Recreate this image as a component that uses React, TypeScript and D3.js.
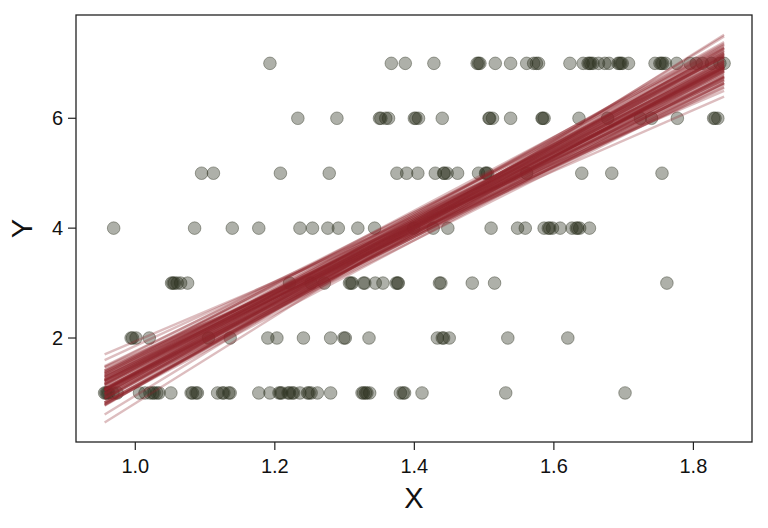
import React from "react";
import * as d3 from "d3";

const yLevels = [1, 2, 3, 4, 5, 6, 7];
const xAtY1 = [0.956, 0.958, 0.960, 0.962, 0.968, 0.974, 1.006, 1.014, 1.021, 1.025, 1.027, 1.031, 1.034, 1.051, 1.080, 1.082, 1.087, 1.089, 1.118, 1.125, 1.127, 1.134, 1.136, 1.177, 1.193, 1.206, 1.208, 1.210, 1.219, 1.221, 1.225, 1.227, 1.236, 1.247, 1.249, 1.252, 1.261, 1.280, 1.325, 1.327, 1.330, 1.332, 1.336, 1.380, 1.384, 1.386, 1.411, 1.531, 1.702];
const xAtY2 = [0.994, 0.996, 1.001, 1.020, 1.105, 1.136, 1.190, 1.203, 1.241, 1.280, 1.299, 1.301, 1.335, 1.433, 1.440, 1.442, 1.450, 1.534, 1.620];
const xAtY3 = [1.052, 1.054, 1.056, 1.060, 1.065, 1.075, 1.221, 1.252, 1.271, 1.307, 1.309, 1.311, 1.327, 1.329, 1.344, 1.355, 1.374, 1.376, 1.377, 1.436, 1.438, 1.483, 1.515, 1.762];
const xAtY4 = [0.969, 1.085, 1.139, 1.177, 1.236, 1.254, 1.276, 1.291, 1.319, 1.343, 1.399, 1.427, 1.448, 1.510, 1.548, 1.559, 1.586, 1.592, 1.594, 1.598, 1.609, 1.626, 1.632, 1.634, 1.637, 1.651];
const xAtY5 = [1.095, 1.112, 1.208, 1.278, 1.375, 1.389, 1.405, 1.430, 1.442, 1.443, 1.447, 1.462, 1.492, 1.502, 1.503, 1.505, 1.561, 1.640, 1.683, 1.755];
const xAtY6 = [1.233, 1.289, 1.350, 1.352, 1.359, 1.363, 1.400, 1.402, 1.406, 1.440, 1.507, 1.508, 1.512, 1.538, 1.583, 1.584, 1.586, 1.636, 1.677, 1.724, 1.740, 1.777, 1.829, 1.831, 1.835];
const xAtY7 = [1.193, 1.367, 1.387, 1.428, 1.490, 1.492, 1.494, 1.516, 1.538, 1.561, 1.571, 1.575, 1.578, 1.623, 1.642, 1.649, 1.651, 1.653, 1.656, 1.664, 1.673, 1.679, 1.692, 1.694, 1.696, 1.698, 1.707, 1.745, 1.752, 1.754, 1.756, 1.760, 1.776, 1.795, 1.804, 1.813, 1.826, 1.838, 1.844];
const xByLevel = [xAtY1, xAtY2, xAtY3, xAtY4, xAtY5, xAtY6, xAtY7];

// posterior regression samples: value at pivot x and slope
const linePivotX = 1.4;
const lineCenters = [
  3.99, 4.17, 3.90, 4.08, 3.84, 4.23, 4.05, 3.96, 4.29, 4.11,
  3.93, 4.02, 4.20, 3.78, 4.05, 4.14, 3.87, 4.02, 4.26, 3.99,
  4.11, 3.90, 4.05, 4.32, 3.96, 4.08, 3.84, 4.17, 4.02, 3.93,
  4.14, 3.99, 4.10, 4.05, 4.23, 3.96, 4.11, 3.90, 4.02, 4.20,
  4.08, 3.87, 3.99, 4.14, 4.05, 3.93, 4.26, 4.02, 3.84, 4.11,
  3.96, 4.17, 4.05, 3.90, 4.08, 3.99, 4.20, 3.78, 4.02, 4.14,
  3.93, 4.05, 4.11, 3.87, 4.23, 3.99, 4.08, 3.96, 4.29, 4.02,
  3.90, 4.14, 4.05, 3.84, 4.11, 3.99, 4.17, 3.93, 4.02, 4.08,
];
const lineSlopes = [
  6.57, 6.22, 6.93, 6.44, 6.78, 7.11, 6.04, 6.67, 6.35, 6.87,
  6.51, 7.33, 5.86, 6.72, 6.30, 6.96, 6.48, 6.15, 6.81, 6.60,
  7.03, 6.39, 5.96, 6.70, 6.55, 7.20, 6.28, 6.83, 6.43, 6.11,
  6.63, 7.95, 5.40, 6.90, 6.34, 6.74, 6.20, 7.00, 6.47, 6.59,
  6.86, 6.25, 7.13, 6.41, 6.68, 5.91, 6.98, 6.54, 6.31, 7.25,
  6.13, 6.77, 6.46, 6.94, 6.07, 6.63, 7.07, 6.37, 6.82, 6.51,
  5.55, 7.75, 6.28, 6.70, 6.17, 6.90, 6.42, 7.17, 6.56, 6.02,
  6.74, 6.35, 7.06, 6.47, 6.89, 6.24, 6.65, 5.94, 7.29, 6.59,
];

const xTicks = [1.0, 1.2, 1.4, 1.6, 1.8];
const yTicks = [2, 4, 6];
const xLabel = "X";
const yLabel = "Y";

const W = 768;
const H = 528;
const M = { left: 76, right: 752, top: 15, bottom: 442 };

export default function App() {
  const x = d3.scaleLinear().domain([0.915, 1.884]).range([M.left, M.right]);
  const y = d3.scaleLinear().domain([0.107, 7.88]).range([M.bottom, M.top]);

  const points: { x: number; y: number }[] = [];
  xByLevel.forEach((xs, i) => xs.forEach((v) => points.push({ x: v, y: yLevels[i] })));
  const [xMin, xMax] = d3.extent(points, (d) => d.x) as [number, number];

  const font = "'Liberation Sans', Arial, sans-serif";

  return (
    <div style={{ position: "fixed", left: 0, top: 0 }}>
      <svg width={W} height={H} style={{ display: "block", background: "#fff" }}>
        <g>
          {points.map((p, i) => (
            <circle
              key={i}
              cx={x(p.x)}
              cy={y(p.y)}
              r={6.3}
              fill="rgb(42,47,30)"
              fillOpacity={0.38}
              stroke="rgb(42,47,30)"
              strokeOpacity={0.4}
              strokeWidth={1}
            />
          ))}
        </g>
        <g>
          {lineCenters.map((c, i) => {
            const s = lineSlopes[i];
            const f = (v: number) => c + s * (v - linePivotX);
            const d = d3
              .line<number>()
              .x((v) => x(v))
              .y((v) => y(f(v)))([xMin, xMax]);
            return (
              <path
                key={i}
                d={d || ""}
                fill="none"
                stroke="rgb(142,36,42)"
                strokeOpacity={0.3}
                strokeWidth={2.4}
              />
            );
          })}
        </g>
        <rect
          x={M.left}
          y={M.top}
          width={M.right - M.left}
          height={M.bottom - M.top}
          fill="none"
          stroke="#222"
          strokeWidth={1.3}
        />
        <g>
          {xTicks.map((t) => (
            <g key={t} transform={`translate(${x(t)},${M.bottom})`}>
              <line y1={0} y2={8} stroke="#222" strokeWidth={1.2} />
              <text
                y={31}
                textAnchor="middle"
                fontFamily={font}
                fontSize={20}
                fill="#111"
              >
                {t.toFixed(1)}
              </text>
            </g>
          ))}
        </g>
        <g>
          {yTicks.map((t) => (
            <g key={t} transform={`translate(${M.left},${y(t)})`}>
              <line x1={0} x2={-8} stroke="#222" strokeWidth={1.2} />
              <text
                x={-13}
                dy="0.36em"
                textAnchor="end"
                fontFamily={font}
                fontSize={20}
                fill="#111"
              >
                {t}
              </text>
            </g>
          ))}
        </g>
        <text
          x={(M.left + M.right) / 2}
          y={508}
          textAnchor="middle"
          fontFamily={font}
          fontSize={29}
          fill="#111"
        >
          {xLabel}
        </text>
        <text
          transform={`translate(32,${(M.top + M.bottom) / 2}) rotate(-90)`}
          textAnchor="middle"
          fontFamily={font}
          fontSize={29}
          fill="#111"
        >
          {yLabel}
        </text>
      </svg>
    </div>
  );
}
